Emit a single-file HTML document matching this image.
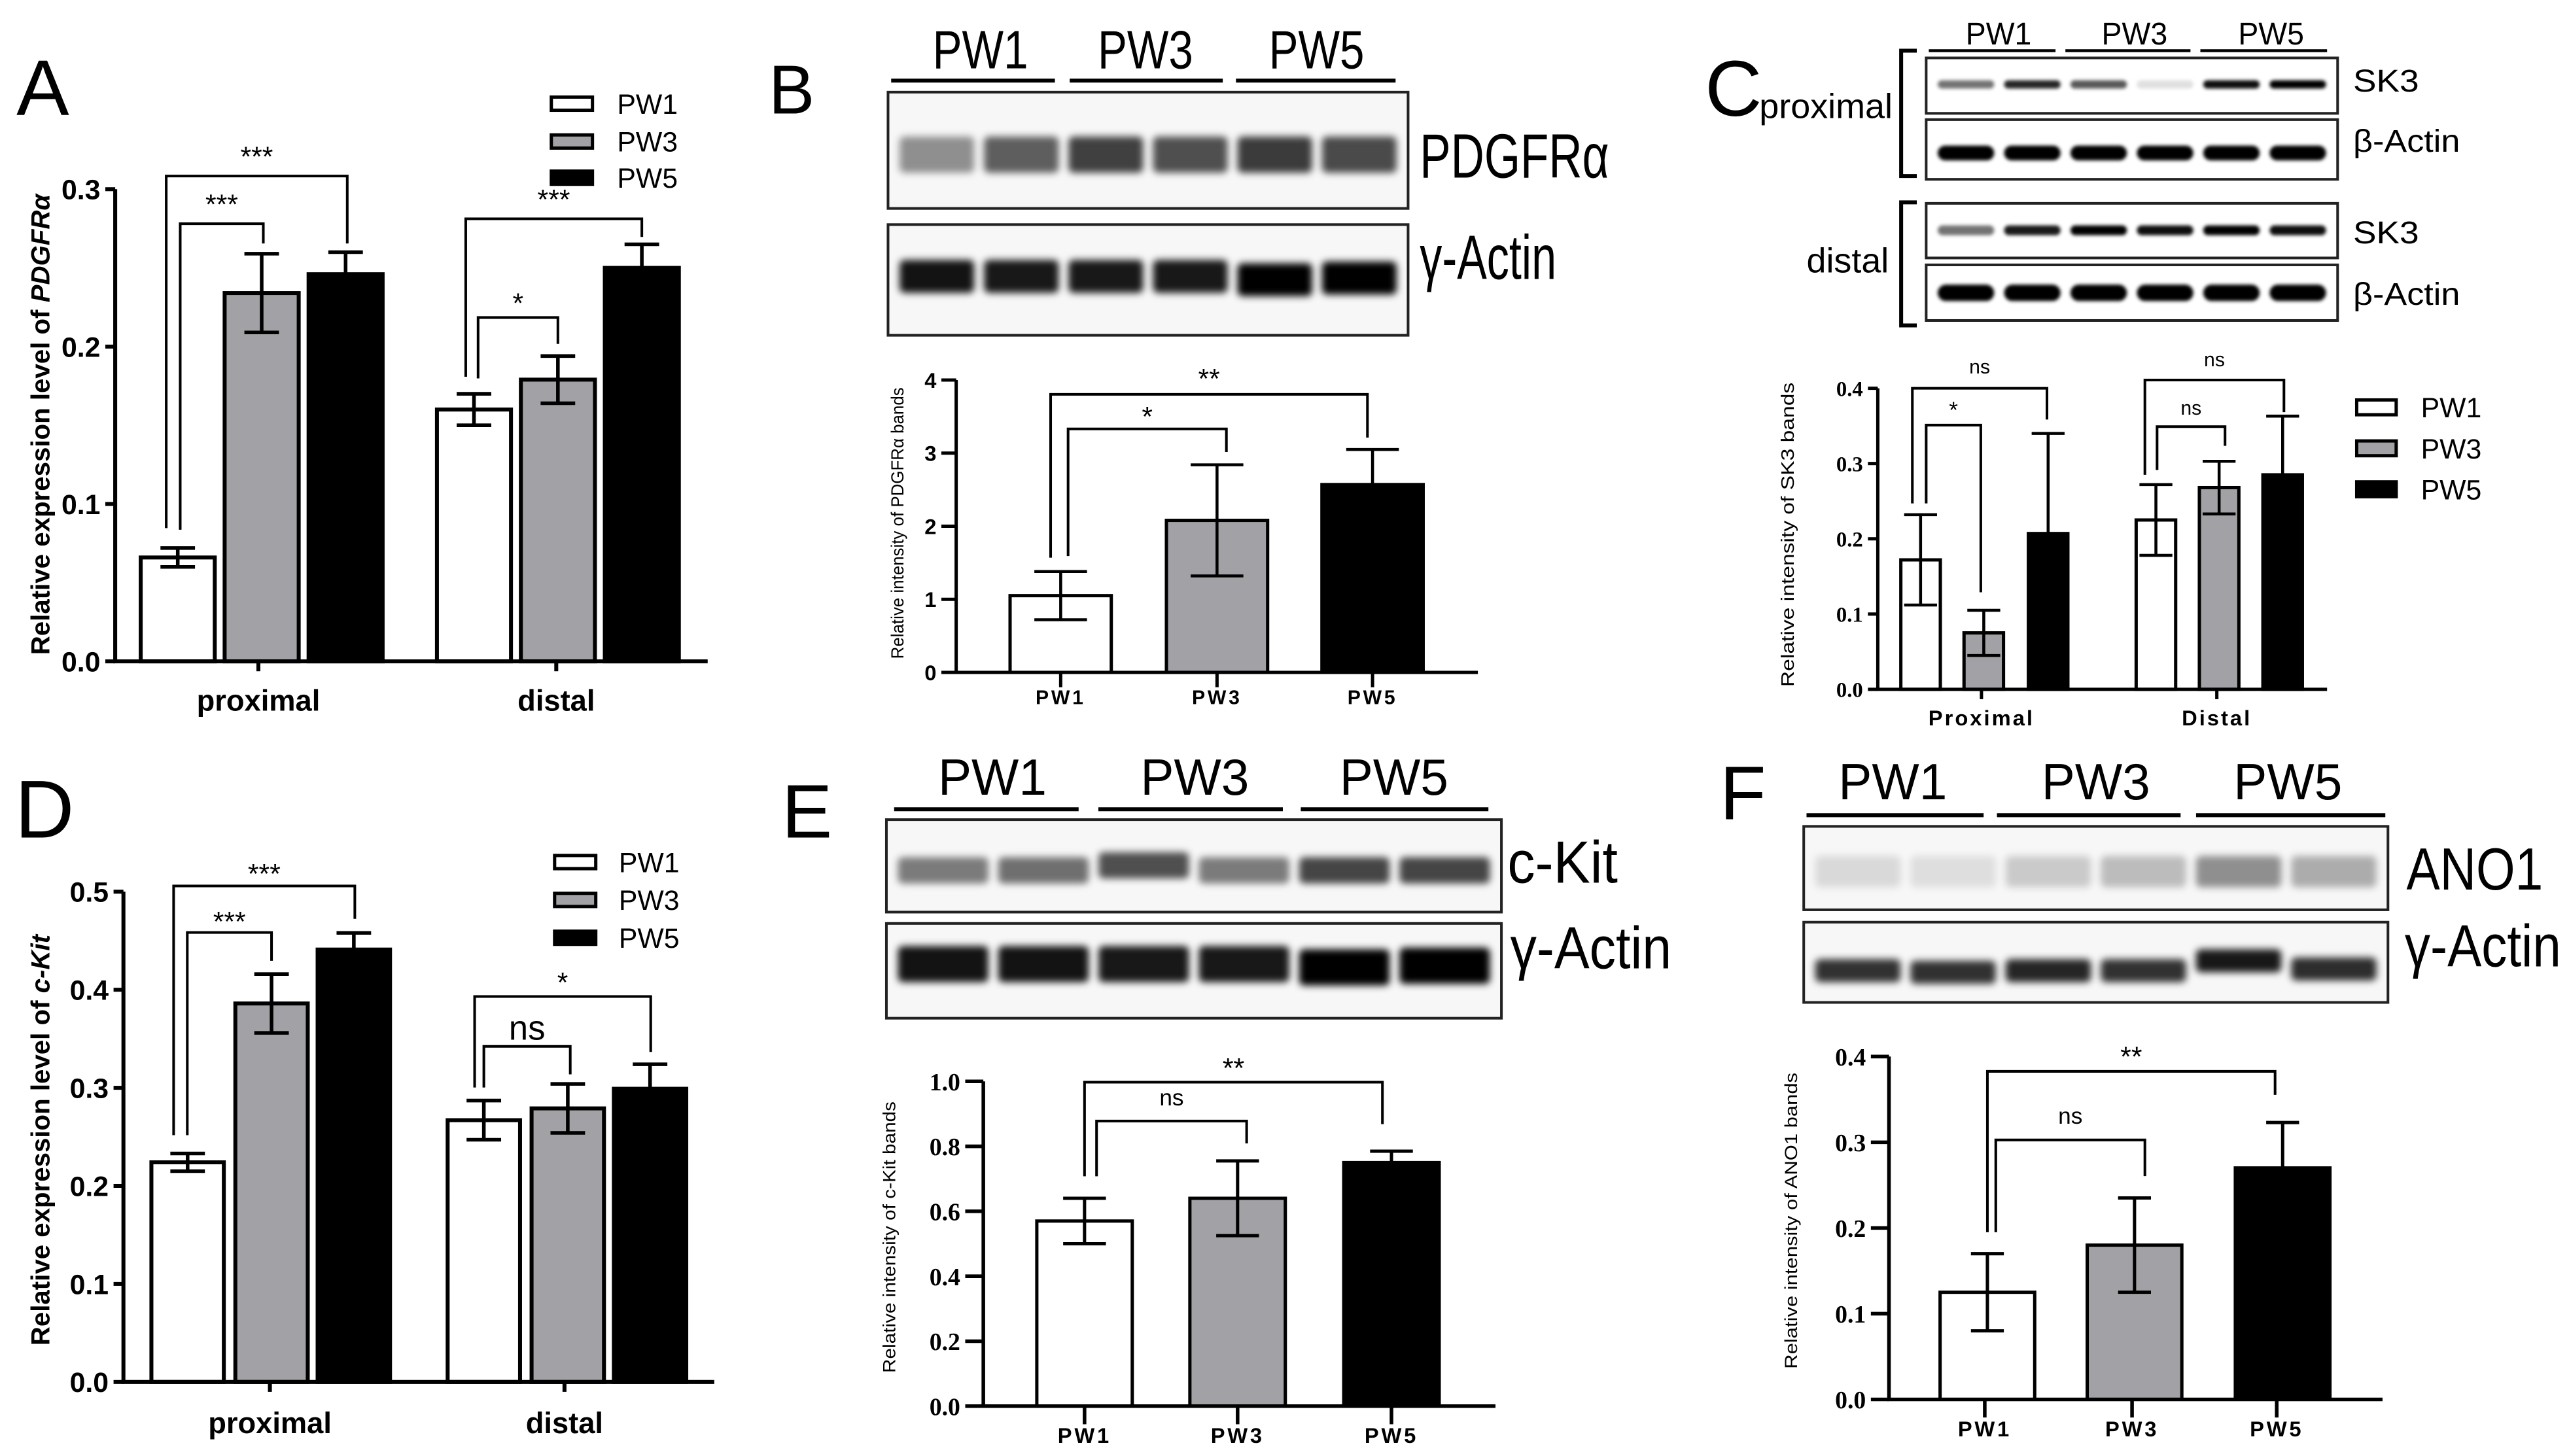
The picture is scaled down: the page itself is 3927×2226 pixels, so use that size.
<!DOCTYPE html>
<html><head><meta charset="utf-8">
<style>html,body{margin:0;padding:0;background:#fff}svg{display:block}text{font-family:"Liberation Sans",Arial,sans-serif}</style>
</head><body>
<svg id="fig" xmlns="http://www.w3.org/2000/svg" width="3927" height="2226" viewBox="0 0 1561 885" preserveAspectRatio="none">
<defs><filter id="blur" x="-20%" y="-80%" width="140%" height="260%"><feGaussianBlur stdDeviation="2.2"/></filter>
<filter id="blur2" x="-20%" y="-80%" width="140%" height="260%"><feGaussianBlur stdDeviation="1.1"/></filter></defs>
</svg>
<script>
// ---- data ----
const aCats=['proximal','distal'];
const aPW1=[0.066,0.160], aPW3=[0.234,0.179], aPW5=[0.246,0.250];
const aErr1=[0.006,0.010], aErr3=[0.025,0.015], aErr5=[0.014,0.015];
const aTicks=[0,0.1,0.2,0.3];
const dCats=['proximal','distal'];
const dPW1=[0.224,0.267], dPW3=[0.386,0.279], dPW5=[0.441,0.299];
const dErr1=[0.009,0.020], dErr3=[0.030,0.025], dErr5=[0.017,0.025];
const dTicks=[0,0.1,0.2,0.3,0.4,0.5];
const bCats=['PW1','PW3','PW5'];
const bVals=[1.05,2.08,2.57], bErr=[0.33,0.76,0.48];
const bTicks=[0,1,2,3,4];
const cCats=['Proximal','Distal'];
const cPW1=[0.172,0.225], cPW3=[0.075,0.268], cPW5=[0.207,0.285];
const cErr1=[0.060,0.047], cErr3=[0.030,0.035], cErr5=[0.133,0.078];
const cTicks=[0,0.1,0.2,0.3,0.4];
const eCats=['PW1','PW3','PW5'];
const eVals=[0.57,0.64,0.75], eErr=[0.07,0.115,0.035];
const eTicks=[0,0.2,0.4,0.6,0.8,1.0];
const fCats=['PW1','PW3','PW5'];
const fVals=[0.125,0.18,0.27], fErr=[0.045,0.055,0.053];
const fTicks=[0,0.1,0.2,0.3,0.4];
const FILLS=['#ffffff','#a2a2a6','#000000'];
const SER=['PW1','PW3','PW5'];

const svg=document.getElementById('fig');
const NS='http://www.w3.org/2000/svg';
function mk(tag,attrs,parent){const e=document.createElementNS(NS,tag);for(const k in attrs)e.setAttribute(k,attrs[k]);(parent||svg).appendChild(e);return e;}
function txt(s,x,y,size,opts,parent){const e=mk('text',Object.assign({x:x,y:y,'font-size':size,fill:'#000'},opts||{}),parent);e.textContent=s;return e;}

function chart(id,L,series,errs,cats,ticks,dec,tickSize,catSize,tickFont){
  const g=mk('g',{});
  
  
  const ys=v=>L.y0-(v/L.max)*(L.y0-L.y1);
  for(let s=0;s<series.length;s++){
    for(let i=0;i<series[s].length;i++){
      const cx=L.cx(i,s), v=series[s][i];
      const fill=L.single?FILLS[i]:FILLS[s];
      const r=mk('rect',{x:cx-L.barW/2,y:ys(v),width:L.barW,height:L.y0-ys(v),fill:fill,stroke:'#000','stroke-width':L.sw},g);
      
      
      const e=errs[s][i];
      const eb=mk('path',{d:`M${cx},${ys(v+e)}V${ys(v-e)}M${cx-L.cap},${ys(v+e)}h${2*L.cap}M${cx-L.cap},${ys(v-e)}h${2*L.cap}`,stroke:'#000','stroke-width':L.esw,fill:'none'},g);
      
      
    }
  }
  const ax=mk('path',{d:`M${L.x0},${ys(ticks[ticks.length-1])}V${L.y0}H${L.x1}`,stroke:'#000','stroke-width':L.asw,fill:'none'},g);
  
  
  ticks.forEach(t=>{
    const tk=mk('line',{x1:L.x0-L.tl,x2:L.x0,y1:ys(t),y2:ys(t),stroke:'#000','stroke-width':L.asw},g);
    
    
    const tl=txt(t.toFixed(dec),L.x0-L.tl-3,ys(t)+tickSize*0.36,tickSize,{'text-anchor':'end','font-weight':'bold',style:'font-family:'+tickFont},g);
    
    
  });
  cats.forEach((c,i)=>{
    const cx=L.catX(i);
    const tk=mk('line',{x1:cx,x2:cx,y1:L.y0,y2:L.y0+L.tl,stroke:'#000','stroke-width':L.asw},g);
    
    
    const cl=txt(c,cx,L.catY,catSize,{'text-anchor':'middle','font-weight':'bold','letter-spacing':L.ls||0},g);
    
    
  });
  return {g,ys};
}
function bracket(g,id,x1,x2,y,e1,e2,label,size,ly){
  const p=mk('path',{d:`M${x1},${e1}V${y}H${x2}V${e2}`,stroke:'#000','stroke-width':1.6,fill:'none'},g);
  
  
  const t=txt(label,(x1+x2)/2,ly,size,{'text-anchor':'middle'},g);
  
  
}
function ytitle(s,x,y,size,bold,italicPart,len){
  const t=mk('text',{x:0,y:0,'font-size':size,transform:`translate(${x},${y}) rotate(-90)`,'text-anchor':'middle','font-weight':bold?'bold':'normal'});
  if(len){t.setAttribute('textLength',len);t.setAttribute('lengthAdjust','spacingAndGlyphs');}
  
  
  const a=mk('tspan',{},t);a.textContent=s;
  if(italicPart){const b=mk('tspan',{'font-style':'italic'},t);b.textContent=italicPart;}
  return t;
}
function legend(id,x,ys,size,w,h,tx){
  SER.forEach((s,i)=>{
    const r=mk('rect',{x:x,y:ys[i]-h/2,width:w,height:h,fill:FILLS[i],stroke:'#000','stroke-width':2});
    
    
    const t=txt(s,tx,ys[i]+size*0.36,size,{});
    
    
  });
}
function letter(s,x,y,size){const t=txt(s,x,y,size,{});}
function label(s,x,y,size,id,len,anchor){
  const o={};if(len){o.textLength=len;o.lengthAdjust='spacingAndGlyphs';}if(anchor)o['text-anchor']=anchor;
  const t=txt(s,x,y,size,o);return t;}

const SERIF='"Liberation Serif",serif', SANS='"Liberation Sans",sans-serif';

// ---- Panel A ----
const LA={x0:70,x1:430,y0:402,y1:115,max:0.3,barW:45,sw:2.4,esw:2.2,asw:2.4,cap:10.5,tl:6,catY:432,
  cx:(i,s)=>[108,159,210][s]+i*180,catX:i=>[157,338][i]};
const A=chart('panel-a',LA,[aPW1,aPW3,aPW5],[aErr1,aErr3,aErr5],aCats,aTicks,1,17,18,SANS);
bracket(A.g,'panel-a',101,211,107,321,148,'***',17,101);
bracket(A.g,'panel-a',109.5,160,136,322,148,'***',17,130);
bracket(A.g,'panel-a',283,390,133,229,144,'***',17,127);
bracket(A.g,'panel-a',290.5,339,193,230,209,'*',17,190);
ytitle('Relative expression level of ',30,258,16,true,'PDGFRα');
legend('panel-a',335,[63,86,108],17,25,8,375);
letter('A',10,70,48);

// ---- Panel D ----
const LD={x0:75,x1:434,y0:840,y1:542,max:0.5,barW:44,sw:2.4,esw:2.2,asw:2.4,cap:10.5,tl:6,catY:871,
  cx:(i,s)=>[114,165,215][s]+i*180,catX:i=>[164,343][i]};
const D=chart('panel-d',LD,[dPW1,dPW3,dPW5],[dErr1,dErr3,dErr5],dCats,dTicks,1,17,18,SANS);
bracket(D.g,'panel-d',105.5,215.6,538.5,690,558.5,'***',17,537);
bracket(D.g,'panel-d',113.8,165,566.8,690,584,'***',17,566);
bracket(D.g,'panel-d',288.4,395.4,605.7,661,639.4,'*',17,603);
bracket(D.g,'panel-d',294,346.5,636,661,653,'ns',21,632);
ytitle('Relative expression level of ',30,693,16,true,'c-Kit');
legend('panel-d',337,[524,547,570],17,25,8,376);
letter('D',9,509,50);

// ---- Panel B ----
const LB={x0:581,x1:898,y0:408.7,y1:231,max:4,barW:61.5,sw:2,esw:1.8,asw:2,cap:16,tl:9,catY:428,single:true,ls:1.5,
  cx:(i,s)=>[644.5,739.5,834][i],catX:i=>[644.5,739.5,834][i]};
const B=chart('panel-b',LB,[bVals],[bErr],bCats,bTicks,0,13,12,SANS);
bracket(B.g,'panel-b',638.4,830.9,239.7,339,266,'**',17,236);
bracket(B.g,'panel-b',649,745.2,260.7,338,274.7,'*',17,259);
ytitle('Relative intensity of PDGFRα bands',549,318,10.5,false,null,165);
letter('B',467,69,42);

// ---- Panel C ----
const LC={x0:1141,x1:1414,y0:419,y1:236,max:0.4,barW:24,sw:2,esw:1.8,asw:2,cap:10,tl:6,catY:441,ls:1.2,
  cx:(i,s)=>[[1167,1205.4,1244.5],[1310,1348.4,1387]][i][s],catX:i=>[1204,1347][i]};
const C=chart('panel-c',LC,[cPW1,cPW3,cPW5],[cErr1,cErr3,cErr5],cCats,cTicks,1,13,13,SERIF);
bracket(C.g,'panel-c',1162,1243.8,236,306,255,'ns',12,227);
bracket(C.g,'panel-c',1170.4,1203.6,258.4,306,360,'*',14,254);
bracket(C.g,'panel-c',1303.3,1387.8,231,288.6,250.5,'ns',12,222.7);
bracket(C.g,'panel-c',1310.7,1352,259.3,285.7,271,'ns',12,252);
ytitle('Relative intensity of SK3 bands',1090,325,11,false,null,185);
legend('panel-c',1432,[247.6,272.5,297.4],17,24,9,1471);

// ---- Panel E ----
const LE={x0:597.5,x1:908.7,y0:854.7,y1:657.3,max:1.0,barW:58,sw:2,esw:2,asw:2.2,cap:13,tl:11,catY:877,single:true,ls:1.5,
  cx:(i,s)=>[659,752,845.5][i],catX:i=>[659,752,845.5][i]};
const E=chart('panel-e',LE,[eVals],[eErr],eCats,eTicks,1,15,13,SERIF);
bracket(E.g,'panel-e',659,840,657.8,715,683.3,'**',17,655);
bracket(E.g,'panel-e',666.3,757.5,681.4,715,695,'ns',14,672);
ytitle('Relative intensity of c-Kit bands',544,752,10.5,false,null,165);
letter('E',475,509,46);

// ---- Panel F ----
const LF={x0:1147.8,x1:1447.7,y0:850.6,y1:642.2,max:0.4,barW:57.5,sw:2,esw:2,asw:2.2,cap:10,tl:11,catY:873,single:true,ls:1.5,
  cx:(i,s)=>[1207.6,1297,1387][i],catX:i=>[1206,1295.5,1383.4][i]};
const F=chart('panel-f',LF,[fVals],[fErr],fCats,fTicks,1,15,13,SERIF);
bracket(F.g,'panel-f',1207.6,1382.4,651.2,749,665.5,'**',17,648);
bracket(F.g,'panel-f',1212.7,1303.3,692.9,749,714.9,'ns',14,683);
ytitle('Relative intensity of ANO1 bands',1092,742,10.5,false,null,180);
letter('F',1045,498,46);

// ---- blots ----
function blot(id,x,y,w,h,intens,bandH,cy,blur,offs){
  const g=mk('g',{});
  
  
  const bg=mk('rect',{x:x,y:y,width:w,height:h,fill:blur?'#f7f7f7':'#fff',stroke:'#222','stroke-width':1.6},g);
  
  
  const lw=(w-8)/intens.length;
  intens.forEach((v,i)=>{
    const o=offs?offs[i]:0;
    const b=mk('rect',{x:x+4+i*lw+3,y:cy-bandH/2+o,width:lw-6,height:bandH,rx:blur?3:bandH/2,fill:`rgba(0,0,0,${v})`,filter:blur?'url(#blur)':'url(#blur2)'},g);
    
    
  });
}
function headers(id,xs,y,size,lines,ly,len,lw){
  ['PW1','PW3','PW5'].forEach((s,i)=>{
    label(s,xs[i],y,size,id+'-header-'+s.toLowerCase(),len,'middle');
    const l=mk('line',{x1:lines[i][0],x2:lines[i][1],y1:ly,y2:ly,stroke:'#000','stroke-width':lw||2.4});
    
    
  });
}

// B blots
headers('panel-b',[595.7,696,800],41.5,33,[[541.5,641],[650,743],[751,848]],49,58);
blot('panel-b-pdgfra-blot',539.6,56,316,70.7,[0.42,0.62,0.74,0.68,0.76,0.7],22,94,true);
blot('panel-b-actin-blot',539.6,136.5,316,67.3,[0.92,0.9,0.9,0.9,1,1],20,168,true,[0,0,0,0,2,1]);
label('PDGFRα',862.7,108,38,'panel-b-pdgfra-label',115);
label('γ-Actin',862.7,169.6,38,'panel-b-actin-label',83);

// C blots
headers('panel-c',[1214.4,1297,1380],27,19,[[1172,1249],[1255,1331],[1337,1414]],30.8,40,1.8);
blot('panel-c-proximal-sk3-blot',1170.4,35.2,250,33.7,[0.55,0.85,0.65,0.12,0.95,1],5,51.3,false);
blot('panel-c-proximal-actin-blot',1170.4,72.7,250,36.3,[1,1,1,1,1,1],9,93,false);
blot('panel-c-distal-sk3-blot',1170.4,123.6,250,33.2,[0.55,0.9,1,0.95,1,0.95],6,140,false);
blot('panel-c-distal-actin-blot',1170.4,161,250,33.8,[1,1,1,1,1,1],10,178,false);
['M1164.7,30.8H1155.2V107H1164.7','M1164.7,123H1155.2V197.8H1164.7'].forEach(d=>{const p=mk('path',{d:d,stroke:'#000','stroke-width':2.4,fill:'none'});});
label('SK3',1429.8,55.7,19,'panel-c-sk3-label',40);
label('β-Actin',1429.8,92.3,19,'panel-c-actin-label',65);
label('SK3',1429.8,148,19,'panel-c-sk3-label',40);
label('β-Actin',1429.8,185.2,19,'panel-c-actin-label',65);
letter('C',1036,70.3,48);
label('proximal',1069,71.8,21,'panel-c-proximal-label',81);
label('distal',1097.7,165.5,21,'panel-c-distal-label',50);

// E blots
headers('panel-e',[603,726,847],483,31,[[543.3,655.4],[667.4,779.5],[790.4,904.4]],491.9,66);
blot('panel-e-ckit-blot',538.6,498.2,373.7,56.2,[0.5,0.55,0.68,0.5,0.72,0.72],16,529,true,[0,0,-3,0,0,0]);
blot('panel-e-actin-blot',538.6,561.3,373.7,57.6,[0.92,0.92,0.9,0.9,1,1],22,586,true,[0,0,0,0,2,1]);
label('c-Kit',916,536.6,36,'panel-e-ckit-label',67);
label('γ-Actin',917.7,588.7,36,'panel-e-actin-label',98);

// F blots
headers('panel-f',[1150.1,1273.5,1390.2],485.9,31,[[1097.7,1205.3],[1213.4,1325],[1334.4,1449.4]],495.5,66);
blot('panel-f-ano1-blot',1096,502.3,355,50.7,[0.12,0.1,0.18,0.24,0.42,0.3],19,529.8,true);
blot('panel-f-actin-blot',1096,560.5,355,48.8,[0.8,0.8,0.85,0.8,0.9,0.82],14,590,true,[0,1,0,0,-6,-1]);
label('ANO1',1462.2,540.7,36,'panel-f-ano1-label',83);
label('γ-Actin',1461.2,587.4,36,'panel-f-actin-label',95);
</script>
</body></html>
